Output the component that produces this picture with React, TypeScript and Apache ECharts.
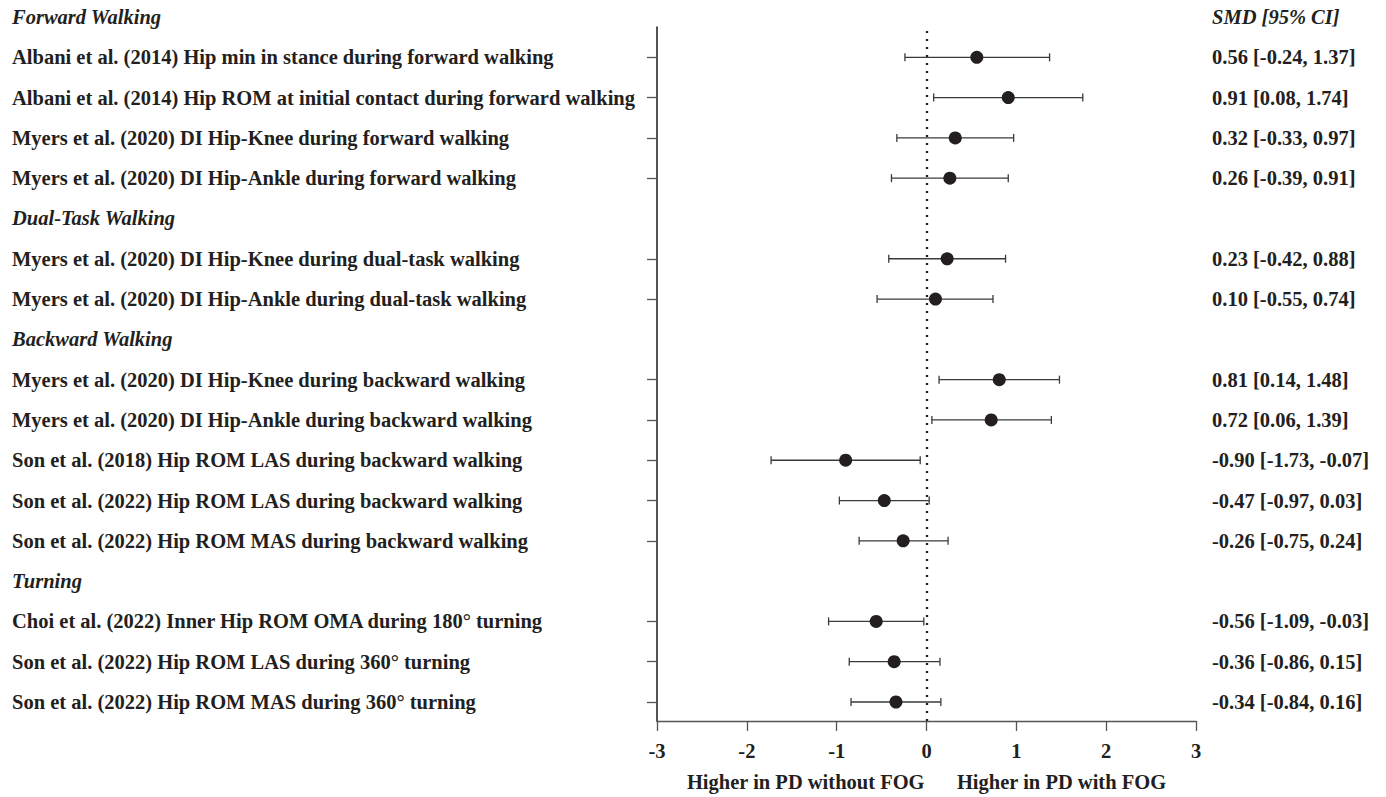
import React, { useEffect, useRef } from 'react';
import * as echarts from 'echarts';

const ROWS = [
  'Forward Walking',
  'Albani et al. (2014) Hip min in stance during forward walking',
  'Albani et al. (2014) Hip ROM at initial contact during forward walking',
  'Myers et al. (2020) DI Hip-Knee during forward walking',
  'Myers et al. (2020) DI Hip-Ankle during forward walking',
  'Dual-Task Walking',
  'Myers et al. (2020) DI Hip-Knee during dual-task walking',
  'Myers et al. (2020) DI Hip-Ankle during dual-task walking',
  'Backward Walking',
  'Myers et al. (2020) DI Hip-Knee during backward walking',
  'Myers et al. (2020) DI Hip-Ankle during backward walking',
  'Son et al. (2018) Hip ROM LAS during backward walking',
  'Son et al. (2022) Hip ROM LAS during backward walking',
  'Son et al. (2022) Hip ROM MAS during backward walking',
  'Turning',
  'Choi et al. (2022) Inner Hip ROM OMA during 180° turning',
  'Son et al. (2022) Hip ROM LAS during 360° turning',
  'Son et al. (2022) Hip ROM MAS during 360° turning',
];
const HEADER_ROWS = [0, 5, 8, 14];
const SMD: (number | null)[] = [null, 0.56, 0.91, 0.32, 0.26, null, 0.23, 0.10, null, 0.81, 0.72, -0.90, -0.47, -0.26, null, -0.56, -0.36, -0.34];
const CI_LOW: (number | null)[] = [null, -0.24, 0.08, -0.33, -0.39, null, -0.42, -0.55, null, 0.14, 0.06, -1.73, -0.97, -0.75, null, -1.09, -0.86, -0.84];
const CI_HIGH: (number | null)[] = [null, 1.37, 1.74, 0.97, 0.91, null, 0.88, 0.74, null, 1.48, 1.39, -0.07, 0.03, 0.24, null, -0.03, 0.15, 0.16];
const RIGHT_HEADER = 'SMD [95% CI]';
const X_NAME_LEFT = 'Higher in PD without FOG';
const X_NAME_RIGHT = 'Higher in PD with FOG';
const X_MIN = -3;
const X_MAX = 3;

const FONT = '"Liberation Serif", "Times New Roman", serif';
const TXT = '#231f20';
const FS = 20.5;

const isHeader = (i: number) => HEADER_ROWS.includes(i);
const fmt = (v: number) => v.toFixed(2);

export default function App() {
  const ref = useRef<HTMLDivElement>(null);
  useEffect(() => {
    if (!ref.current) return;
    const chart = echarts.init(ref.current, undefined, { renderer: 'svg' });
    const ids = ROWS.map((_, i) => String(i));
    const rightText = ROWS.map((_, i) =>
      i === 0 ? RIGHT_HEADER : isHeader(i) ? '' : `${fmt(SMD[i] as number)} [${fmt(CI_LOW[i] as number)}, ${fmt(CI_HIGH[i] as number)}]`
    );
    const ciData: number[][] = [];
    const ptData: number[][] = [];
    ROWS.forEach((_, i) => {
      if (isHeader(i)) return;
      ciData.push([CI_LOW[i] as number, CI_HIGH[i] as number, i]);
      ptData.push([SMD[i] as number, i]);
    });
    const rich = {
      h: { fontFamily: FONT, fontSize: FS, fontWeight: 'bold', fontStyle: 'italic', color: TXT },
      b: { fontFamily: FONT, fontSize: FS, fontWeight: 'bold', color: TXT },
    };
    const option: any = {
      animation: false,
      backgroundColor: '#ffffff',
      grid: [
        { left: 657, right: 190, top: 27, bottom: 69, containLabel: false },
        { left: 657, right: 190, top: 17, bottom: 95, containLabel: false },
      ],
      xAxis: [
        {
          type: 'value', gridIndex: 0, min: X_MIN, max: X_MAX, interval: 1,
          axisLine: { show: true, onZero: false, lineStyle: { color: '#555', width: 1.3 } },
          axisTick: { show: true, length: 10, inside: false, lineStyle: { color: '#555', width: 1.3 } },
          splitLine: { show: false },
          axisLabel: { margin: 19, fontFamily: FONT, fontSize: FS, fontWeight: 'bold', color: TXT },
          name: `{l|${X_NAME_LEFT}}{r|${X_NAME_RIGHT}}`,
          nameLocation: 'middle',
          nameGap: 50,
          nameTextStyle: {
            rich: {
              l: { fontFamily: FONT, fontSize: FS, fontWeight: 'bold', color: TXT },
              r: { fontFamily: FONT, fontSize: FS, fontWeight: 'bold', color: TXT, padding: [0, 0, 0, 32] },
            },
          },
        },
        { type: 'value', gridIndex: 1, min: X_MIN, max: X_MAX, show: false },
      ],
      yAxis: [
        {
          type: 'value', gridIndex: 0, min: 0, max: 1,
          axisLine: { show: true, onZero: false, lineStyle: { color: '#1a1a1a', width: 1.5 } },
          axisTick: { show: false }, axisLabel: { show: false }, splitLine: { show: false },
        },
        {
          type: 'category', gridIndex: 1, inverse: true, boundaryGap: false, data: ids,
          axisLine: { show: false, onZero: false },
          axisTick: {
            show: true, length: 10, alignWithLabel: true,
            interval: (i: number) => !isHeader(i),
            lineStyle: { color: '#555', width: 1.3 },
          },
          axisLabel: {
            interval: 0, align: 'left', margin: 645,
            formatter: (_v: string, i: number) => (isHeader(i) ? `{h|${ROWS[i]}}` : `{b|${ROWS[i]}}`),
            rich,
          },
          splitLine: { show: false },
        },
        {
          type: 'category', gridIndex: 1, position: 'right', inverse: true, boundaryGap: false, data: ids,
          axisLine: { show: false, onZero: false }, axisTick: { show: false }, splitLine: { show: false },
          axisLabel: {
            interval: 0, align: 'left', margin: 16,
            formatter: (_v: string, i: number) => (rightText[i] ? (i === 0 ? `{h|${rightText[i]}}` : `{b|${rightText[i]}}`) : ''),
            rich,
          },
        },
      ],
      series: [
        {
          type: 'line', xAxisIndex: 0, yAxisIndex: 0, data: [], silent: true,
          markLine: {
            silent: true, symbol: 'none', label: { show: false },
            lineStyle: { type: [2, 6], color: '#222', width: 2.3 },
            data: [{ xAxis: 0 }],
          },
        },
        {
          type: 'custom', xAxisIndex: 1, yAxisIndex: 1, data: ciData,
          encode: { x: [0, 1], y: 2 },
          renderItem: (_p: any, api: any) => {
            const a = api.coord([api.value(0), api.value(2)]);
            const b = api.coord([api.value(1), api.value(2)]);
            const h = 4;
            const st = { stroke: '#3a3a3a', lineWidth: 1.3 };
            return {
              type: 'group',
              children: [
                { type: 'line', shape: { x1: a[0], y1: a[1], x2: b[0], y2: b[1] }, style: st },
                { type: 'line', shape: { x1: a[0], y1: a[1] - h, x2: a[0], y2: a[1] + h }, style: st },
                { type: 'line', shape: { x1: b[0], y1: b[1] - h, x2: b[0], y2: b[1] + h }, style: st },
              ],
            };
          },
          z: 2,
        },
        {
          type: 'scatter', xAxisIndex: 1, yAxisIndex: 1, data: ptData,
          symbol: 'circle', symbolSize: 13,
          itemStyle: { color: '#231f20', opacity: 1 },
          z: 3,
        },
      ],
    };
    chart.setOption(option);
    return () => chart.dispose();
  }, []);
  return <div ref={ref} style={{ position: 'fixed', left: 0, top: 0, width: 1386, height: 797 }} />;
}
